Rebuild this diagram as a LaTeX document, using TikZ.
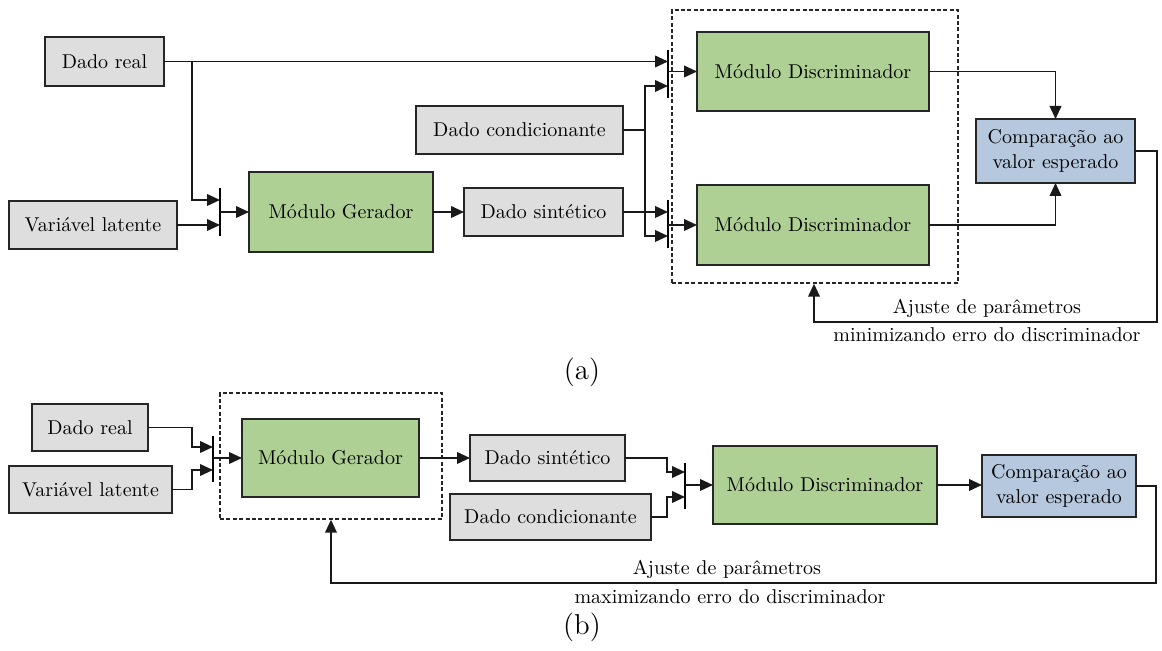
\documentclass[tikz,border=0pt]{standalone}
\usetikzlibrary{arrows.meta}
\definecolor{boxgray}{HTML}{DEDEDE}
\definecolor{boxgreen}{HTML}{AED094}
\definecolor{boxblue}{HTML}{B6C8DE}
\tikzset{
  base/.style={draw=black!85, line width=0.95pt, inner sep=0pt, outer sep=0pt,
    align=center, font=\fontsize{10}{12.5}\selectfont},
  databox/.style={base, fill=boxgray},
  modbox/.style={base, fill=boxgreen},
  cmpbox/.style={base, fill=boxblue},
  joinbar/.style={inner sep=0pt, outer sep=0pt, minimum width=0pt, minimum height=24pt},
  wire/.style={line width=0.95pt, draw=black!90},
  arr/.style={wire, -{Triangle[length=6.5pt,width=5.8pt]}},
  barline/.style={line width=1pt},
  groupbox/.style={draw=black!85, line width=0.7pt, dash pattern=on 2pt off 1.2pt},
  lbl/.style={inner sep=0pt, font=\fontsize{10}{12.5}\selectfont},
  subcap/.style={inner sep=0pt, font=\Large}
}
\begin{document}
\begin{tikzpicture}[x=0.5pt, y=-0.5pt]
\useasboundingbox (0,0) rectangle (1162,651);

% ---------------- (a) discriminator training ----------------
\node[databox, minimum width=59.5pt, minimum height=24.5pt] (ra) at (104.5,61.5) {Dado real};
\node[databox, minimum width=84pt, minimum height=24pt] (la) at (93,225) {Variável latente};
\node[modbox, minimum width=92pt, minimum height=40pt] (ga) at (341,212) {Módulo Gerador};
\node[databox, minimum width=79.5pt, minimum height=24pt] (sa) at (543.5,212) {Dado sintético};
\node[databox, minimum width=103.5pt, minimum height=24pt] (ca) at (519.5,130) {Dado condicionante};
\node[modbox, minimum width=116pt, minimum height=39.5pt] (da1) at (813,71.5) {Módulo Discriminador};
\node[modbox, minimum width=116pt, minimum height=40pt] (da2) at (813,225) {Módulo Discriminador};
\node[cmpbox, minimum width=79.5pt, minimum height=32pt] (ka) at (1055.5,151) {Comparação ao\\valor esperado};
\node[groupbox, inner sep=0pt, minimum width=143pt, minimum height=136.5pt] (grpa) at (815,146.5) {};

\node[joinbar] (ja) at (220,212.5) {};
\node[joinbar] (jb) at (668,74) {};
\node[joinbar] (jc) at (668,224) {};
\foreach \j in {ja,jb,jc} \draw[barline] (\j.north) -- (\j.south);

\coordinate (ka1) at (192,61.5);
\coordinate (ka2) at (192,200);
\coordinate (kc) at (645,130);
\coordinate (fa1) at (1157,151);
\coordinate (fa2) at (1157,322);
\coordinate (fa3) at (814,322);

% real data to both the generator and the first discriminator
\draw[arr] (ra.east) -- (ra.east -| jb.center);
\draw[arr] (ka1) -- (ka2) -- (ka2 -| ja.center);
\draw[arr] (la.east) -- (la.east -| ja.center);
\draw[arr] (ja.center |- ga.west) -- (ga.west);
\draw[arr] (ga.east) -- (sa.west);
% conditioning data to both discriminators
\draw[wire] (ca.east) -- (kc);
\draw[arr] (kc) |- (jb.center |- 0,86);
\draw[arr] (kc) |- (jc.center |- 0,236);
\draw[arr] (sa.east) -- (jc.center |- sa.east);
\draw[arr] (jb.center |- da1.west) -- (da1.west);
\draw[arr] (jc.center |- da2.west) -- (da2.west);
% outputs to the comparison
\draw[arr] (da1.east) -| (ka.north);
\draw[arr] (da2.east) -| (ka.south);
% parameter update
\draw[arr] (ka.east) -- (fa1) -- (fa2) -- (fa3) -- (fa3 |- grpa.south);
\node[lbl] (ta1) at (987,308) {Ajuste de parâmetros};
\node[lbl] (ta2) at (987,335) {minimizando erro do discriminador};
\node[subcap] (capa) at (582,372) {(a)};

% ---------------- (b) generator training ----------------
\node[databox, minimum width=58pt, minimum height=23.5pt] (rb) at (90,427.5) {Dado real};
\node[databox, minimum width=81.5pt, minimum height=23.5pt] (lb) at (90.5,489.5) {Variável latente};
\node[modbox, minimum width=88.5pt, minimum height=39pt] (gb) at (330.5,458) {Módulo Gerador};
\node[groupbox, inner sep=0pt, minimum width=111pt, minimum height=63pt] (grpb) at (331,456) {};
\node[databox, minimum width=77.5pt, minimum height=23pt] (sb) at (547.5,458) {Dado sintético};
\node[databox, minimum width=100.5pt, minimum height=23pt] (cb) at (550.5,517) {Dado condicionante};
\node[modbox, minimum width=112pt, minimum height=39pt] (db) at (825,485) {Módulo Discriminador};
\node[cmpbox, minimum width=77pt, minimum height=31pt] (kb) at (1059,486) {Comparação ao\\valor esperado};

\node[joinbar, minimum height=23pt] (jd) at (213,459) {};
\node[joinbar, minimum height=23pt] (je) at (685,486) {};
\foreach \j in {jd,je} \draw[barline] (\j.north) -- (\j.south);

\coordinate (kd1) at (192,427.5);
\coordinate (kd2) at (192,489.5);
\coordinate (ke1) at (667,458);
\coordinate (ke2) at (667,517);
\coordinate (fb1) at (1156,486);
\coordinate (fb2) at (1156,583);
\coordinate (fb3) at (331,583);

\draw[arr] (rb.east) -- (kd1) |- (jd.center |- 0,447);
\draw[arr] (lb.east) -- (kd2) |- (jd.center |- 0,470);
\draw[arr] (jd.center |- gb.west) -- (gb.west);
\draw[arr] (gb.east) -- (sb.west);
\draw[arr] (sb.east) -- (ke1) |- (je.center |- 0,472);
\draw[arr] (cb.east) -- (ke2) |- (je.center |- 0,497);
\draw[arr] (je.center |- db.west) -- (db.west);
\draw[arr] (db.east) -- (db.east -| kb.west);
\draw[arr] (kb.east) -- (fb1) -- (fb2) -- (fb3) -- (fb3 |- grpb.south);
\node[lbl] (tb1) at (727,569) {Ajuste de parâmetros};
\node[lbl] (tb2) at (730,597) {maximizando erro do discriminador};
\node[subcap] (capb) at (582,627) {(b)};
\end{tikzpicture}
\end{document}
